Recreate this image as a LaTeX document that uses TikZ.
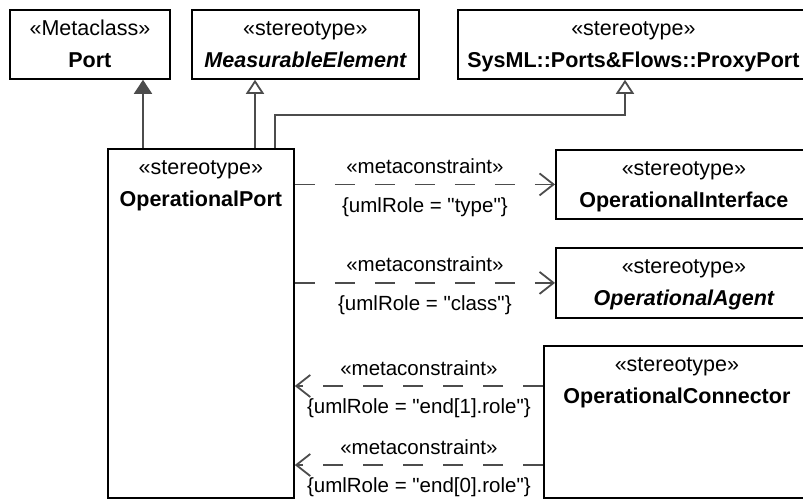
\documentclass[tikz,border=0pt]{standalone}
\usepackage{fontspec}
\setmainfont{Liberation Sans}[Ligatures=TeXOff]
\usetikzlibrary{arrows.meta}

\begin{document}
\begin{tikzpicture}[x=1pt, y=-1pt,
    box/.style={draw=black, line width=1.8pt, fill=white, inner sep=0, anchor=north west},
    boxtext/.style={anchor=base, inner sep=0, font=\fontsize{21.5}{24}\selectfont},
    reltext/.style={anchor=base, inner sep=0, font=\fontsize{20.5}{24}\selectfont},
    genfull/.style={draw=black!70, line width=1.8pt, -{Triangle[length=14pt, width=18pt, fill=black!70]}},
    genopen/.style={draw=black!70, line width=1.8pt, -{Triangle[length=14pt, width=18pt, fill=white]}},
    metadep/.style={draw=black!70, line width=1.8pt, dash pattern=on 20pt off 20pt, -{Straight Barb[length=14pt, width=22pt]}}]
    \clip (0,0) rectangle (803,498);
    \fill[white] (0,0) rectangle (803,498);

    \node[box, minimum width=160, minimum height=69] (port) at (9,9) {};
    \node[boxtext] at ([yshift=-26.5pt]port.north) {«Metaclass»};
    \node[boxtext] at ([yshift=-58.5pt]port.north) {\bfseries Port};

    \node[box, minimum width=227, minimum height=69] (meas) at (191,9) {};
    \node[boxtext] at ([yshift=-26.5pt]meas.north) {«stereotype»};
    \node[boxtext] at ([yshift=-58.5pt]meas.north) {\bfseries\itshape MeasurableElement};

    \node[box, minimum width=351, minimum height=69] (proxy) at (457,9) {};
    \node[boxtext] at ([yshift=-26.5pt]proxy.north) {«stereotype»};
    \node[boxtext] at ([yshift=-58.5pt]proxy.north) {\bfseries SysML::Ports\&Flows::ProxyPort};

    \node[box, minimum width=186, minimum height=349] (opport) at (107,148) {};
    \node[boxtext] at ([yshift=-26.5pt]opport.north) {«stereotype»};
    \node[boxtext] at ([yshift=-58.5pt]opport.north) {\bfseries OperationalPort};

    \node[box, minimum width=256, minimum height=69] (iface) at (555,149) {};
    \node[boxtext] at ([yshift=-26.5pt]iface.north) {«stereotype»};
    \node[boxtext] at ([yshift=-58.5pt]iface.north) {\bfseries OperationalInterface};

    \node[box, minimum width=256, minimum height=70] (agent) at (555,247) {};
    \node[boxtext] at ([yshift=-26.5pt]agent.north) {«stereotype»};
    \node[boxtext] at ([yshift=-58.5pt]agent.north) {\bfseries\itshape OperationalAgent};

    \node[box, minimum width=266, minimum height=152] (conn) at (543,345) {};
    \node[boxtext] at ([yshift=-26.5pt]conn.north) {«stereotype»};
    \node[boxtext] at ([yshift=-58.5pt]conn.north) {\bfseries OperationalConnector};

    \draw[genfull] (143,0 |- opport.north) -- (143,0 |- port.south);
    \draw[genopen] (255,0 |- opport.north) -- (255,0 |- meas.south);
    \draw[genopen] (275,0 |- opport.north) -- (275,115) -| (625,0 |- proxy.south);

    \coordinate (end1) at ([yshift=-41pt]conn.north west);
    \coordinate (end0) at ([yshift=-120pt]conn.north west);

    \draw[metadep] (iface.west -| opport.east) -- (iface.west)
        node[reltext, midway, yshift=11pt] {«metaconstraint»}
        node[reltext, midway, yshift=-28pt] {\{umlRole = "type"\}};
    \draw[metadep] (agent.west -| opport.east) -- (agent.west)
        node[reltext, midway, yshift=11pt] {«metaconstraint»}
        node[reltext, midway, yshift=-28pt] {\{umlRole = "class"\}};
    \draw[metadep] (end1) -- (end1 -| opport.east)
        node[reltext, midway, yshift=11pt] {«metaconstraint»}
        node[reltext, midway, yshift=-27pt] {\{umlRole = "end[1].role"\}};
    \draw[metadep] (end0) -- (end0 -| opport.east)
        node[reltext, midway, yshift=11pt] {«metaconstraint»}
        node[reltext, midway, yshift=-27pt] {\{umlRole = "end[0].role"\}};
\end{tikzpicture}
\end{document}
